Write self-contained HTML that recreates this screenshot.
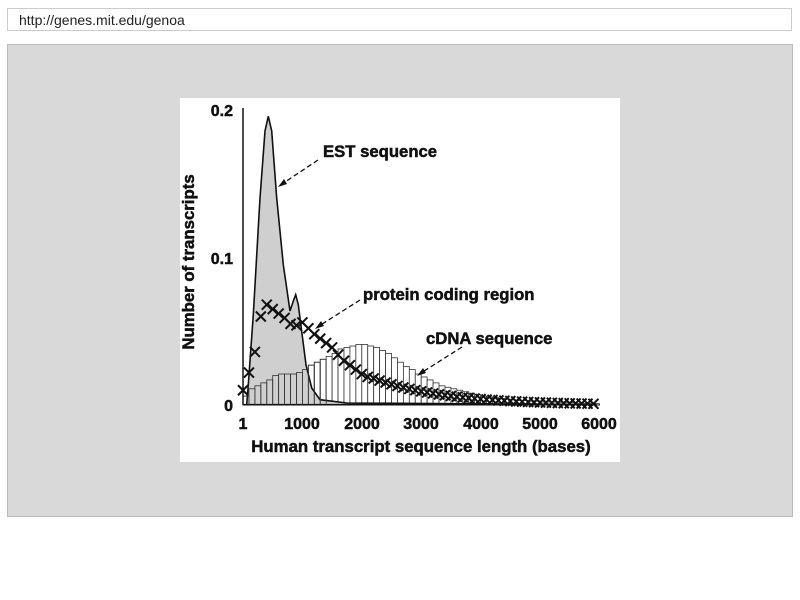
<!DOCTYPE html>
<html><head><meta charset="utf-8"><style>
body{margin:0;width:800px;height:600px;background:#fff;position:relative;overflow:hidden;font-family:"Liberation Sans",sans-serif}
#url{position:absolute;left:7px;top:8px;width:785px;height:23px;border:1px solid #ccc;box-sizing:border-box;font-size:14px;line-height:22px;padding-left:11px;color:#222}
#panel{position:absolute;left:7px;top:44px;width:786px;height:473px;background:#d9d9d9;border:1px solid #bbb;box-sizing:border-box}
#img{position:absolute;left:180px;top:98px;width:440px;height:364px;background:#fff}
svg{position:absolute;left:0;top:0}
svg text{font-family:"Liberation Sans",sans-serif;font-weight:700;fill:#111;stroke:#111;stroke-width:0.5}
</style></head><body>
<div id="url">http://genes.mit.edu/genoa</div>
<div id="panel"></div>
<div id="img"></div>
<svg width="800" height="600" id="s">
<g id="bars"></g>
<path id="est" fill="#cfcfcf" stroke="#111" stroke-width="1.6" d="M243,404.7 L246.7,404.7 L248.3,384.7 L253.3,314.7 L260,198 L265,131 L268.3,116.3 L271.7,131 L276.7,198 L283.3,264.7 L290,311 L293.3,301 L295.7,294.7 L298.3,304.7 L301.7,331.3 L306,364.7 L311.7,388 L320,399.7 L346.7,403 L596.7,404.7 Z"/>
<g id="bars2"></g>
<g id="xs" stroke="#111" stroke-width="2"></g>
<line x1="243" y1="108" x2="243" y2="405" stroke="#111" stroke-width="1.5"/>
<line x1="243" y1="405" x2="600" y2="405" stroke="#111" stroke-width="1"/>
<g font-size="16" text-anchor="end" font-weight="bold">
<text x="233" y="116">0.2</text><text x="233" y="264">0.1</text><text x="233" y="411">0</text>
</g>
<g font-size="16" text-anchor="middle" font-weight="bold">
<text x="243" y="429">1</text><text x="302" y="429">1000</text><text x="362" y="429">2000</text><text x="421" y="429">3000</text><text x="481" y="429">4000</text><text x="540" y="429">5000</text><text x="599" y="429">6000</text>
</g>
<text x="421" y="452" font-size="16.8" text-anchor="middle" font-weight="bold">Human transcript sequence length (bases)</text>
<text x="0" y="0" font-size="16.8" text-anchor="middle" font-weight="bold" transform="translate(194,262) rotate(-90)">Number of transcripts</text>
<text x="323" y="157" font-size="16.7" font-weight="bold">EST sequence</text>
<text x="363" y="300" font-size="16.7" font-weight="bold">protein coding region</text>
<text x="426" y="344" font-size="16.7" font-weight="bold">cDNA sequence</text>
<g stroke="#111" stroke-width="1.3" stroke-dasharray="5,3" fill="none">
<line x1="318" y1="160" x2="282" y2="184"/>
<line x1="360" y1="300" x2="319" y2="326"/>
<line x1="462" y1="347" x2="421" y2="373"/>
</g>
<g fill="#111">
<polygon points="278,187 284,179 287,184"/>
<polygon points="315,329 321,321 324,326"/>
<polygon points="417,376 423,368 426,373"/>
</g>
</svg>
<script>
var X=function(v){return 243+v*0.0594},Y=function(v){return 405-v*1475};
var ns="http://www.w3.org/2000/svg";
var cd=[0.006,0.011,0.013,0.015,0.017,0.02,0.021,0.021,0.021,0.022,0.024,0.027,0.029,0.031,0.033,0.035,0.038,0.039,0.040,0.041,0.041,0.040,0.039,0.037,0.035,0.032,0.029,0.026,0.024,0.021,0.019,0.017,0.015,0.013,0.012,0.011,0.010,0.009,0.008,0.007,0.006,0.0055,0.005,0.0045,0.004,0.0035,0.003,0.003,0.0025,0.0025,0.002,0.002,0.002,0.0015,0.0015,0.0015,0.001,0.001,0.001,0.001];
var b=document.getElementById('bars'),b2=document.getElementById('bars2');
cd.forEach(function(v,i){
 var x=X(i*100),w=5.94,y=Y(v),h=405-y;
 var r=document.createElementNS(ns,'rect');r.setAttribute('x',x);r.setAttribute('y',y);r.setAttribute('width',w);r.setAttribute('height',h);r.setAttribute('fill','#fff');r.setAttribute('stroke','#333');r.setAttribute('stroke-width','0.8');b.appendChild(r);
 if(i<14){var r2=r.cloneNode();r2.setAttribute('fill','none');b2.appendChild(r2);}
});
var pc=[0.010,0.022,0.036,0.060,0.068,0.065,0.062,0.059,0.055,0.054,0.056,0.052,0.048,0.045,0.042,0.039,0.034,0.030,0.027,0.024,0.021,0.019,0.018];
var v=0.018;for(var i=23;i<=59;i++){v*=0.92;pc.push(Math.max(v,0.0008));}
var g=document.getElementById('xs');
pc.forEach(function(v,i){var x=X(i*100),y=Y(v),d=5;
 ['M'+(x-d)+','+(y-d)+'L'+(x+d)+','+(y+d),'M'+(x-d)+','+(y+d)+'L'+(x+d)+','+(y-d)].forEach(function(p){var e=document.createElementNS(ns,'path');e.setAttribute('d',p);g.appendChild(e);});
});
</script>
</body></html>
